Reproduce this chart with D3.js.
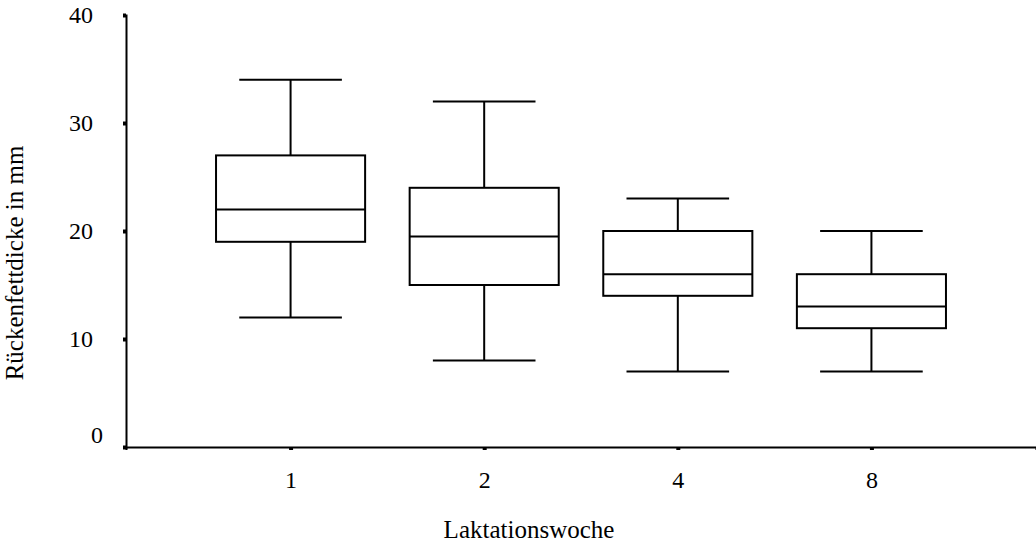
<!DOCTYPE html>
<html>
<head>
<meta charset="utf-8">
<script src="https://cdn.jsdelivr.net/npm/d3@7"></script>
<style>
  body { margin: 0; background: #fff; }
  text { font-family: "Liberation Serif", "Times New Roman", serif; fill: #000; }
</style>
</head>
<body>
<div id="viz-container"></div>
<script>
// data
const weeks = ["1", "2", "4", "8"];
const whiskerLow = [12, 8, 7, 7];
const boxLow = [19, 15, 14, 11];
const medians = [22, 19.5, 16, 13];
const boxHigh = [27, 24, 20, 16];
const whiskerHigh = [34, 32, 23, 20];
const yTicks = [0, 10, 20, 30, 40];

const width = 1036, height = 548;
const svg = d3.select("#viz-container").append("svg")
    .attr("width", width).attr("height", height);

const x = d3.scalePoint().domain(weeks).range([126, 1036]).padding(0.85);
const y = d3.scaleLinear().domain([0, 40]).range([447, 15]);
const step = x.step();
const boxW = step * 0.77, capW = step * 0.53;

// axes
const yAxis = svg.append("g").attr("transform", "translate(126,0)")
    .call(d3.axisLeft(y).tickValues(yTicks).tickSize(3).tickPadding(30));
const xAxis = svg.append("g").attr("transform", "translate(0,447)")
    .call(d3.axisBottom(x).tickSize(3).tickPadding(21));

[yAxis, xAxis].forEach(g => {
  g.attr("font-family", null).attr("font-size", null);
  g.select(".domain").attr("stroke", "#000").attr("stroke-width", 2);
  g.selectAll(".tick line").attr("stroke", "#000").attr("stroke-width", 4);
  g.selectAll(".tick text").style("font-size", "24px").attr("fill", "#000");
});
// the zero label sits a bit off in the original
yAxis.selectAll(".tick text").filter(d => d === 0)
    .attr("transform", "translate(10,-12)");

const data = weeks.map((w, i) => ({
  w, lo: whiskerLow[i], q1: boxLow[i], med: medians[i], q3: boxHigh[i], hi: whiskerHigh[i]
}));

const boxes = svg.selectAll("g.box").data(data).enter()
    .append("g").attr("class", "box")
    .attr("stroke", "#000").attr("stroke-width", 2).attr("fill", "none");

// whiskers
boxes.append("line")
    .attr("x1", d => x(d.w)).attr("x2", d => x(d.w))
    .attr("y1", d => y(d.hi)).attr("y2", d => y(d.q3));
boxes.append("line")
    .attr("x1", d => x(d.w)).attr("x2", d => x(d.w))
    .attr("y1", d => y(d.q1)).attr("y2", d => y(d.lo));
// caps
boxes.append("line")
    .attr("x1", d => x(d.w) - capW / 2).attr("x2", d => x(d.w) + capW / 2)
    .attr("y1", d => y(d.hi)).attr("y2", d => y(d.hi));
boxes.append("line")
    .attr("x1", d => x(d.w) - capW / 2).attr("x2", d => x(d.w) + capW / 2)
    .attr("y1", d => y(d.lo)).attr("y2", d => y(d.lo));
// box
boxes.append("rect")
    .attr("x", d => x(d.w) - boxW / 2).attr("width", boxW)
    .attr("y", d => y(d.q3)).attr("height", d => y(d.q1) - y(d.q3));
// median
boxes.append("line")
    .attr("x1", d => x(d.w) - boxW / 2).attr("x2", d => x(d.w) + boxW / 2)
    .attr("y1", d => y(d.med)).attr("y2", d => y(d.med));

// axis titles
svg.append("text").attr("x", 529).attr("y", 538)
    .attr("text-anchor", "middle").style("font-size", "25px")
    .text("Laktationswoche");
svg.append("text")
    .attr("transform", "translate(23,263) rotate(-90)")
    .attr("text-anchor", "middle").style("font-size", "25px")
    .text("Rückenfettdicke in mm");
</script>
</body>
</html>
